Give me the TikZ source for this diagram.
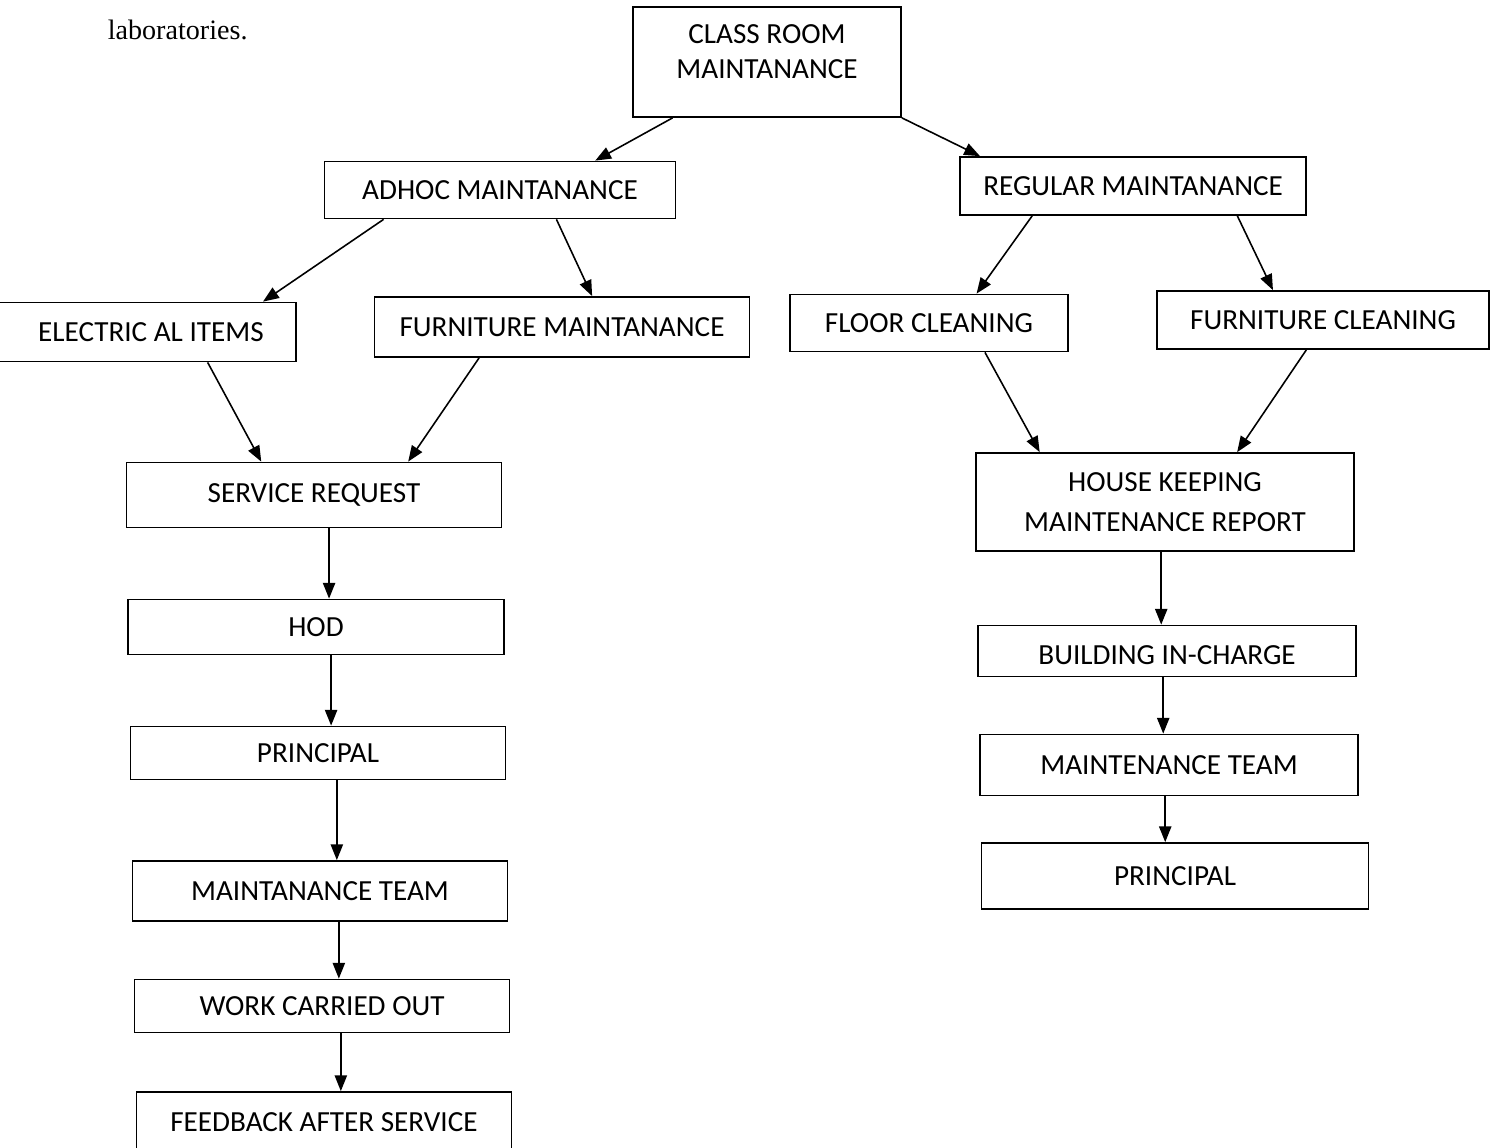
\documentclass[tikz,border=0pt]{standalone}
\usepackage{fontspec}
\setmainfont{Carlito}
\newfontfamily\timesfont{Liberation Serif}
\usetikzlibrary{positioning,calc,arrows.meta}

\begin{document}
\begin{tikzpicture}[x=0.02cm, y=-0.02cm,
    ->,
    >={Triangle[length=9pt,width=7pt]},
    line width=0.9pt,
    bb/.style 2 args={%
      rectangle, draw=black, line width=1pt, fill=white,
      minimum width=#1*0.02cm, minimum height=#2*0.02cm,
      inner sep=3pt, align=center, font=\fontsize{16.6}{20}\selectfont
    },
    txt/.style={%
      anchor=base west, inner sep=0pt, font=\timesfont\fontsize{16}{19}\selectfont
    }
]
    \useasboundingbox (0,0) rectangle (1496,1148);

    \node[txt] (lab) at (107,40) {laboratories.};

    \node[bb={268}{110}, text depth=12pt] (room) at (767,62) {CLASS ROOM\\MAINTANANCE};
    \node[bb={351}{57}] (adhoc)    at (500,190)  {ADHOC MAINTANANCE};
    \node[bb={346}{58}] (regular)  at (1133,186) {REGULAR MAINTANANCE};

    \node[bb={306}{59}] (elec)     at (143,332)  {\hspace*{0.32cm}ELECTRIC AL ITEMS};
    \node[bb={375}{60}] (furn)     at (562,327)  {FURNITURE MAINTANANCE};
    \node[bb={278}{57}] (floor)    at (929,323)  {FLOOR CLEANING};
    \node[bb={332}{58}] (fclean)   at (1323,320) {FURNITURE CLEANING};

    % adhoc branch
    \node[bb={375}{65}] (request)  at (314,495)  {SERVICE REQUEST};
    \node[bb={376}{55}] (hod)      at (316,627)  {HOD};
    \node[bb={375}{53}] (princl)   at (318,753)  {PRINCIPAL};
    \node[bb={375}{60}] (teaml)    at (320,891)  {MAINTANANCE TEAM};
    \node[bb={375}{53}] (work)     at (322,1006) {WORK CARRIED OUT};
    \node[bb={375}{60}] (feedback) at (324,1122) {FEEDBACK AFTER SERVICE};

    % regular branch
    \node[bb={378}{98}] (report)   at (1165,502) {HOUSE KEEPING\\[2.7pt]MAINTENANCE REPORT};
    \node[bb={378}{51}, text height=16pt] (building) at (1167,651) {BUILDING IN-CHARGE};
    \node[bb={378}{61}] (teamr)    at (1169,765) {MAINTENANCE TEAM};
    \node[bb={387}{66}] (princr)   at (1175,876) {PRINCIPAL};

    % slanted connectors
    \foreach \a/\fa/\b/\fb in {room/0.15/adhoc/0.77, room/1.0/regular/0.06,
        adhoc/0.17/elec/0.89, adhoc/0.66/furn/0.58,
        regular/0.21/floor/0.67, regular/0.80/fclean/0.35,
        elec/0.71/request/0.36, furn/0.28/request/0.75,
        floor/0.70/report/0.17, fclean/0.45/report/0.69}
      \draw ($(\a.south west)!\fa!(\a.south east)$) -- ($(\b.north west)!\fb!(\b.north east)$);

    % straight down
    \foreach \a/\fa/\b in {request/0.54/hod, hod/0.54/princl, princl/0.55/teaml,
        teaml/0.55/work, work/0.55/feedback,
        report/0.49/building, building/0.49/teamr, teamr/0.49/princr}
      \draw ($(\a.south west)!\fa!(\a.south east)$) coordinate (t) -- (t |- \b.north);

\end{tikzpicture}
\end{document}
